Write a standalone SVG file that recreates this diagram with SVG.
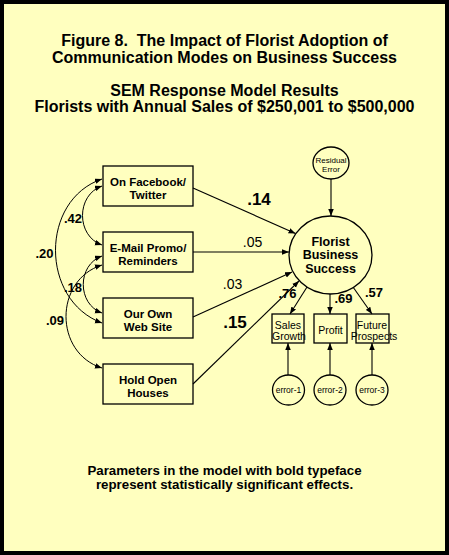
<svg xmlns="http://www.w3.org/2000/svg" width="449" height="555" viewBox="0 0 449 555">
<defs>
<style>
.t{font-family:"Liberation Sans",Arial,sans-serif;fill:#000;text-anchor:middle}
.title{font-size:16px;font-weight:bold}
.box{font-size:11.5px;font-weight:bold}
.bx{fill:none;stroke:#000;stroke-width:1.3}
.ln{fill:none;stroke:#000;stroke-width:1.1}
.cv{fill:none;stroke:#000;stroke-width:1}
.big{font-size:17px;font-weight:bold}
.reg{font-size:14px}
.lab{font-size:13px;font-weight:bold}
.ind{font-size:10.5px}
.sm{font-size:8px}
.err{font-size:8.5px}
.ctr{font-size:12.5px;font-weight:bold}
.foot{font-size:13.3px;font-weight:bold}
</style>
<marker id="ah" markerUnits="userSpaceOnUse" markerWidth="8" markerHeight="6" refX="7" refY="2.75" orient="auto-start-reverse">
<path d="M0,0 L7,2.75 L0,5.5 z" fill="#000"/>
</marker>
</defs>
<rect x="2" y="2" width="445" height="551" fill="#FFFFBF" stroke="#000" stroke-width="4"/>
<g id="title">
<text class="t title" x="224.5" y="46">Figure 8.&#160; The Impact of Florist Adoption of</text>
<text class="t title" x="224.5" y="62.5">Communication Modes on Business Success</text>
<text class="t title" x="224.5" y="96">SEM Response Model Results</text>
<text class="t title" x="224.5" y="111.5">Florists with Annual Sales of $250,001 to $500,000</text>
</g>
<g id="connectors">
<path class="cv" d="M102,186 C76,195 76,236 102,245" marker-start="url(#ah)" marker-end="url(#ah)"/>
<path class="cv" d="M102,179 C40,200 40,300 102,323" marker-start="url(#ah)" marker-end="url(#ah)"/>
<path class="cv" d="M102,256 C77,265 77,304 102,313" marker-start="url(#ah)" marker-end="url(#ah)"/>
<path class="cv" d="M102,265 C54,280 54,353 102,368" marker-start="url(#ah)" marker-end="url(#ah)"/>
<line class="ln" x1="193" y1="188" x2="295.5" y2="233.5" marker-end="url(#ah)"/>
<line class="ln" x1="193" y1="252" x2="289" y2="252" marker-end="url(#ah)"/>
<line class="ln" x1="193" y1="317" x2="292" y2="272" marker-end="url(#ah)"/>
<line class="ln" x1="193" y1="384" x2="299" y2="281" marker-end="url(#ah)"/>
<line class="ln" x1="331" y1="179" x2="331" y2="216" marker-end="url(#ah)"/>
<line class="ln" x1="307" y1="287" x2="290" y2="314" marker-end="url(#ah)"/>
<line class="ln" x1="330" y1="294" x2="330" y2="314" marker-end="url(#ah)"/>
<line class="ln" x1="353" y1="287" x2="372" y2="314" marker-end="url(#ah)"/>
<line class="ln" x1="288" y1="375" x2="288" y2="343" marker-end="url(#ah)"/>
<line class="ln" x1="330" y1="375" x2="330" y2="343" marker-end="url(#ah)"/>
<line class="ln" x1="372" y1="375" x2="372" y2="343" marker-end="url(#ah)"/>
<text class="t lab" x="73" y="223">.42</text>
<text class="t lab" x="44.5" y="258">.20</text>
<text class="t lab" x="73" y="292">.18</text>
<text class="t lab" x="55" y="325">.09</text>
<text class="t big" x="259" y="205">.14</text>
<text class="t reg" x="252.5" y="247">.05</text>
<text class="t reg" x="232.5" y="289">.03</text>
<text class="t big" x="235" y="328">.15</text>
<text class="t lab" x="287.5" y="298">.76</text>
<text class="t lab" x="343.5" y="303">.69</text>
<text class="t lab" x="374" y="297">.57</text>
</g>
<g id="facebook">
<rect class="bx" x="103" y="166" width="90" height="40"/>
<text class="t box" x="148" y="185.5">On Facebook/</text>
<text class="t box" x="148" y="198.5">Twitter</text>
</g>
<g id="email">
<rect class="bx" x="103" y="232" width="90" height="40"/>
<text class="t box" x="148" y="251.5">E-Mail Promo/</text>
<text class="t box" x="148" y="264.5">Reminders</text>
</g>
<g id="website">
<rect class="bx" x="103" y="298" width="90" height="40"/>
<text class="t box" x="148" y="317.5">Our Own</text>
<text class="t box" x="148" y="330.5">Web Site</text>
</g>
<g id="openhouses">
<rect class="bx" x="103" y="364" width="90" height="40"/>
<text class="t box" x="148" y="383.5">Hold Open</text>
<text class="t box" x="148" y="396.5">Houses</text>
</g>
<g id="success">
<ellipse class="bx" cx="330.5" cy="255" rx="41.5" ry="39"/>
<text class="t ctr" x="330.5" y="245.5">Florist</text>
<text class="t ctr" x="330.5" y="259">Business</text>
<text class="t ctr" x="330.5" y="272.5">Success</text>
</g>
<g id="residual">
<ellipse class="bx" cx="331" cy="163" rx="18" ry="16"/>
<text class="t sm" x="331" y="162.5">Residual</text>
<text class="t sm" x="331" y="171.5">Error</text>
</g>
<g id="sales">
<rect class="bx" x="272" y="314" width="32" height="29"/>
<text class="t ind" x="288" y="328.5">Sales</text>
<text class="t ind" x="289" y="340">Growth</text>
</g>
<g id="profit">
<rect class="bx" x="314" y="314" width="33" height="29"/>
<text class="t ind" x="330.5" y="334">Profit</text>
</g>
<g id="future">
<rect class="bx" x="356" y="314" width="33" height="29"/>
<text class="t ind" x="372" y="328.5">Future</text>
<text class="t ind" x="374" y="340">Prospects</text>
</g>
<g id="error1">
<ellipse class="bx" cx="288.5" cy="390" rx="16" ry="15"/>
<text class="t err" x="288.5" y="393">error-1</text>
</g>
<g id="error2">
<ellipse class="bx" cx="330" cy="390" rx="16" ry="15"/>
<text class="t err" x="330" y="393">error-2</text>
</g>
<g id="error3">
<ellipse class="bx" cx="372" cy="390" rx="16" ry="15"/>
<text class="t err" x="372" y="393">error-3</text>
</g>
<g id="footer">
<text class="t foot" x="224.5" y="475">Parameters in the model with bold typeface</text>
<text class="t foot" x="224.5" y="489">represent statistically significant effects.</text>
</g>
</svg>
